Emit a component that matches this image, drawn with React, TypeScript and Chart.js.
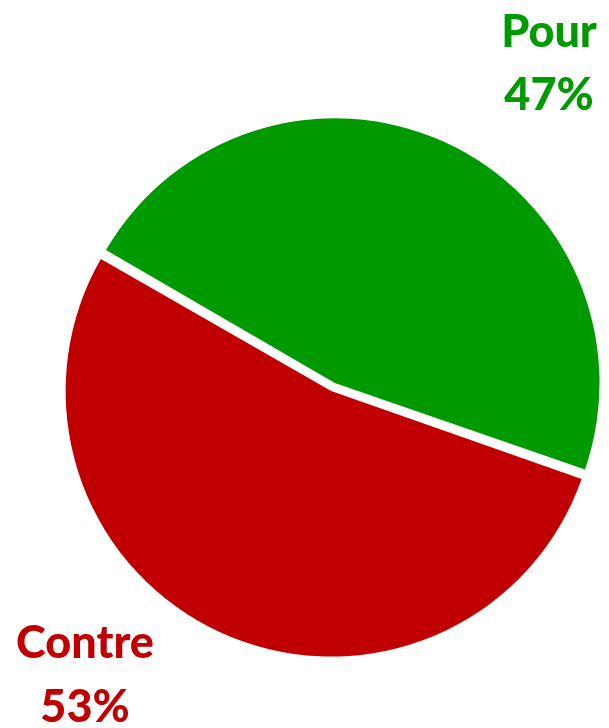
import React, { useEffect, useRef } from "react";
import { Chart, registerables } from "chart.js";

Chart.register(...registerables);

const categories = ["Pour", "Contre"];
const values = [47, 53];
const colors = ["#009900", "#C00000"];
const labelAnchors = [
  { x: 549, y1: 47, y2: 110 },
  { x: 85, y1: 658, y2: 722 },
];

const labelPlugin = {
  id: "sliceLabels",
  afterDraw(chart: any) {
    const ctx = chart.ctx;
    ctx.save();
    ctx.font = "900 45px Lato";
    ctx.textAlign = "center";
    ctx.textBaseline = "alphabetic";
    categories.forEach((c, i) => {
      const a = labelAnchors[i];
      ctx.fillStyle = colors[i];
      ctx.fillText(c, a.x, a.y1);
      ctx.fillText(values[i] + "%", a.x, a.y2);
    });
    ctx.restore();
  },
};

export default function App() {
  const ref = useRef<HTMLCanvasElement>(null);
  useEffect(() => {
    if (!ref.current) return;
    const chart = new Chart(ref.current, {
      type: "pie",
      data: {
        labels: categories,
        datasets: [
          {
            data: values,
            backgroundColor: colors,
            borderWidth: 0,
            offset: 18,
            hoverOffset: 0,
          },
        ],
      },
      options: {
        responsive: false,
        animation: false,
        rotation: -60,
        radius: 261,
        layout: { padding: { left: 57, right: 0, top: 46, bottom: 0 } },
        plugins: {
          legend: { display: false },
          tooltip: { enabled: false },
        },
      },
      plugins: [labelPlugin],
    });
    return () => chart.destroy();
  }, []);
  return (
    <div style={{ position: "absolute", left: 0, top: 0, width: 609, height: 728, background: "#fff" }}>
      <canvas ref={ref} width={609} height={728} style={{ width: 609, height: 728 }} />
    </div>
  );
}
